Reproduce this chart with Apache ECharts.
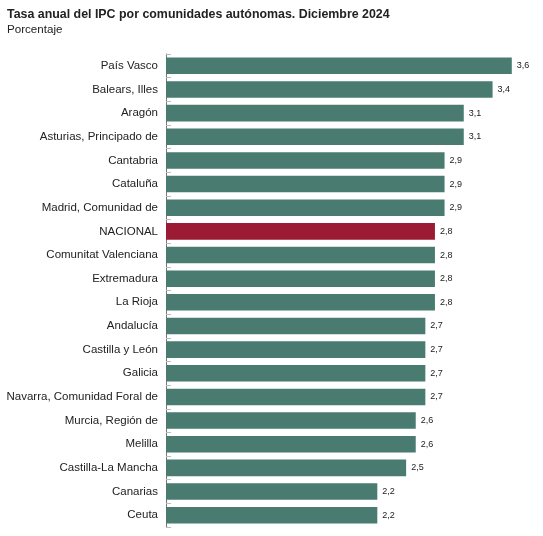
<!DOCTYPE html>
<html><head><meta charset="utf-8">
<script src="https://cdn.jsdelivr.net/npm/echarts@6/dist/echarts.min.js"></script>
<style>html,body{margin:0;padding:0;background:#fff}#c{width:543px;height:536px}</style>
</head><body><div id="c"></div>
<script>
const categories = ["País Vasco","Balears, Illes","Aragón","Asturias, Principado de","Cantabria","Cataluña","Madrid, Comunidad de","NACIONAL","Comunitat Valenciana","Extremadura","La Rioja","Andalucía","Castilla y León","Galicia","Navarra, Comunidad Foral de","Murcia, Región de","Melilla","Castilla-La Mancha","Canarias","Ceuta"];
const values = [3.6,3.4,3.1,3.1,2.9,2.9,2.9,2.8,2.8,2.8,2.8,2.7,2.7,2.7,2.7,2.6,2.6,2.5,2.2,2.2];
const highlight = "NACIONAL";
const titleText = "Tasa anual del IPC por comunidades autónomas. Diciembre 2024";
const subtitleText = "Porcentaje";

const FONT = 'Liberation Sans, Arial, sans-serif';
const chart = echarts.init(document.getElementById('c'), null, {renderer:'canvas'});
chart.setOption({
  animation:false,
  textStyle:{fontFamily:FONT},
  title:{text:titleText,subtext:subtitleText,left:7,top:9,padding:0,itemGap:3,
    textStyle:{fontSize:12.4,fontWeight:'bold',color:'#222',fontFamily:FONT},
    subtextStyle:{fontSize:11.6,color:'#222',fontFamily:FONT}},
  grid:{left:166,top:54,bottom:9,right:12,containLabel:false},
  xAxis:{type:'value',min:0,max:3.8,show:false},
  yAxis:{type:'category',data:categories,inverse:true,
    axisLine:{lineStyle:{color:'#777',width:1}},
    axisTick:{show:true,inside:true,length:5,lineStyle:{color:'#bbb'}},
    axisLabel:{fontSize:11.5,color:'#222',margin:8}},
  series:[{type:'bar',barCategoryGap:'30%',
    data:values.map((v,i)=>({value:v,itemStyle:{color:categories[i]===highlight?'#9a1b33':'#4a7b71'}})),
    label:{show:true,position:'right',distance:5,fontSize:9,color:'#222',
      formatter:p=>String(p.value).replace('.',',')}}]
});
</script></body></html>
